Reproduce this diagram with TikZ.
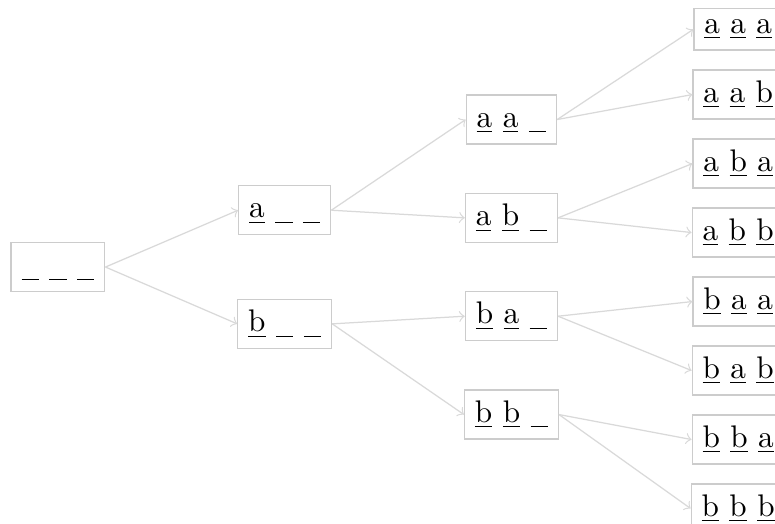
\documentclass[tikz,border=0pt]{standalone}
\usepackage{tikz}
\usetikzlibrary{arrows, positioning}

\newcommand{\hueco}{\underline{\phantom{b}}}
\newcommand{\letra}[1]{\underline{#1}}

\tikzset{
  caja/.style={draw=gray!40, anchor=base},
  flecha/.style={->, gray!30}
}

\begin{document}
\begin{tikzpicture}
            \useasboundingbox (-0.652,-2.805) rectangle (8.064,3.088);

            % Raiz
            \node[caja] (n) at (0,0) {\hueco~\hueco~\hueco};

            % Primer nivel
            \node[caja] (na) at (2.55,0.639) {\letra{a}~\hueco~\hueco};
            \node[caja] (nb) at (2.55,-0.639) {\letra{b}~\hueco~\hueco};

            % Segundo nivel
            \node[caja] (naa) at (5.1,1.659) {\letra{a}~\letra{a}~\hueco};
            \node[caja] (nab) at (5.1,0.553) {\letra{a}~\letra{b}~\hueco};
            \node[caja] (nba) at (5.1,-0.553) {\letra{b}~\letra{a}~\hueco};
            \node[caja] (nbb) at (5.1,-1.659) {\letra{b}~\letra{b}~\hueco};

            % Tercer nivel
            \node[caja] (naaa) at (7.65,2.716) {\letra{a}~\letra{a}~\letra{a}};
            \node[caja] (naab) at (7.65,1.940) {\letra{a}~\letra{a}~\letra{b}};
            \node[caja] (naba) at (7.65,1.164) {\letra{a}~\letra{b}~\letra{a}};
            \node[caja] (nabb) at (7.65,0.388) {\letra{a}~\letra{b}~\letra{b}};
            \node[caja] (nbaa) at (7.65,-0.388) {\letra{b}~\letra{a}~\letra{a}};
            \node[caja] (nbab) at (7.65,-1.164) {\letra{b}~\letra{a}~\letra{b}};
            \node[caja] (nbba) at (7.65,-1.940) {\letra{b}~\letra{b}~\letra{a}};
            \node[caja] (nbbb) at (7.65,-2.716) {\letra{b}~\letra{b}~\letra{b}};

            % Aristas
            \draw[flecha] (n.east) -- (na.west);
            \draw[flecha] (n.east) -- (nb.west);
            \draw[flecha] (na.east) -- (naa.west);
            \draw[flecha] (na.east) -- (nab.west);
            \draw[flecha] (nb.east) -- (nba.west);
            \draw[flecha] (nb.east) -- (nbb.west);
            \draw[flecha] (naa.east) -- (naaa.west);
            \draw[flecha] (naa.east) -- (naab.west);
            \draw[flecha] (nab.east) -- (naba.west);
            \draw[flecha] (nab.east) -- (nabb.west);
            \draw[flecha] (nba.east) -- (nbaa.west);
            \draw[flecha] (nba.east) -- (nbab.west);
            \draw[flecha] (nbb.east) -- (nbba.west);
            \draw[flecha] (nbb.east) -- (nbbb.west);
\end{tikzpicture}
\end{document}
